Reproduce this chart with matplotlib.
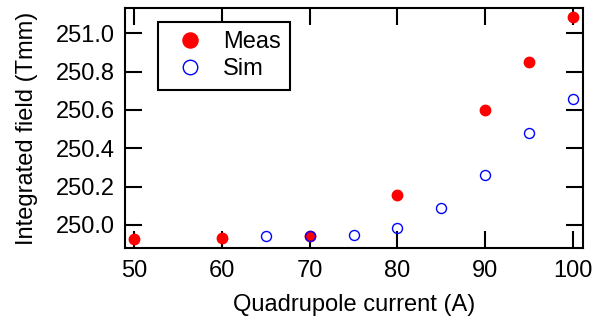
import matplotlib
matplotlib.use("Agg")
import matplotlib.pyplot as plt

plt.rcParams['font.family'] = ['Liberation Sans', 'DejaVu Sans']

# measured values
meas_current = [50, 60, 70, 80, 90, 95, 100]
meas_field = [249.927, 249.932, 249.943, 250.156, 250.598, 250.849, 251.083]

# simulated values
sim_current = [65, 70, 75, 80, 85, 90, 95, 100]
sim_field = [249.943, 249.941, 249.946, 249.984, 250.090, 250.261, 250.479, 250.659]

xticks = [50, 60, 70, 80, 90, 100]
yticks = [250.0, 250.2, 250.4, 250.6, 250.8, 251.0]

fig = plt.figure(figsize=(5.99, 3.27), dpi=100)
ax = fig.add_axes([0.2087, 0.2416, 0.9733 - 0.2087, 0.9755 - 0.2416])

ax.plot(meas_current, meas_field, linestyle='none', marker='o', ms=7.5,
        color='#ff0000', mec='#ff0000', label='Meas', zorder=3)
ax.plot(sim_current, sim_field, linestyle='none', marker='o', ms=7.2,
        mfc='none', mec='#0000ff', mew=1.0, label='Sim', zorder=4)

ax.set_xlim(48.97, 101.14)
ax.set_ylim(249.880, 251.132)
ax.set_xticks(xticks)
ax.set_yticks(yticks)
ax.set_yticklabels(["%.1f" % v for v in yticks])

for s in ax.spines.values():
    s.set_linewidth(1.5)

ax.tick_params(axis='both', which='major', direction='in', length=12.5, width=1.5,
               top=True, right=True, labelsize=17, color='black')
ax.tick_params(axis='x', pad=9)
ax.tick_params(axis='y', pad=7)

ax.set_xlabel("Quadrupole current (A)", fontsize=17, labelpad=8)
ax.set_ylabel("Integrated field (Tmm)", fontsize=17, labelpad=13)

leg = ax.legend(loc='upper left', bbox_to_anchor=(0.072, 0.942), fontsize=17,
                frameon=True, fancybox=False, edgecolor='black', framealpha=1,
                markerscale=1.45, handletextpad=0.45, borderpad=0.4,
                labelspacing=0.2, handlelength=1.9, borderaxespad=0)
leg.get_frame().set_linewidth(1.5)

fig.savefig("out.png", dpi=100)
